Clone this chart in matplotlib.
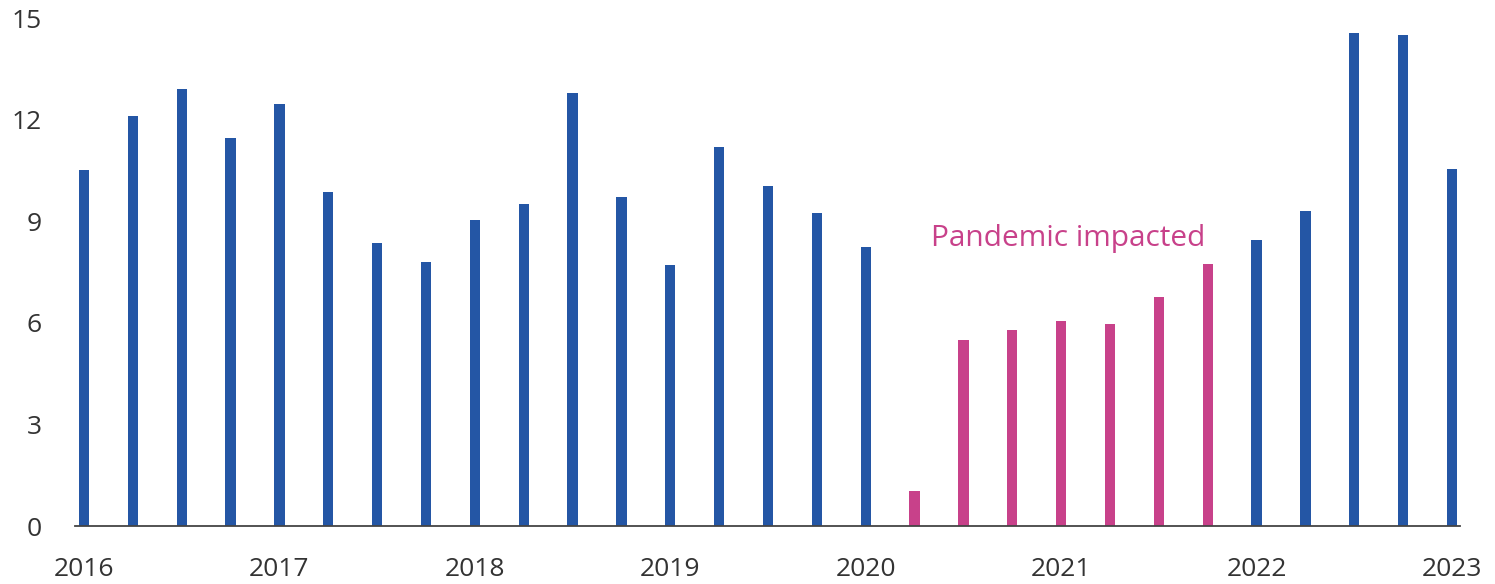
import numpy as np
import matplotlib
matplotlib.use("Agg")
import matplotlib.pyplot as plt

plt.rcParams['font.family'] = ['Open Sans', 'DejaVu Sans']

quarters = ["2016Q1", "2016Q2", "2016Q3", "2016Q4",
            "2017Q1", "2017Q2", "2017Q3", "2017Q4",
            "2018Q1", "2018Q2", "2018Q3", "2018Q4",
            "2019Q1", "2019Q2", "2019Q3", "2019Q4",
            "2020Q1", "2020Q2", "2020Q3", "2020Q4",
            "2021Q1", "2021Q2", "2021Q3", "2021Q4",
            "2022Q1", "2022Q2", "2022Q3", "2022Q4",
            "2023Q1"]
values = [10.5, 12.1, 12.9, 11.45,
          12.45, 9.85, 8.35, 7.8,
          9.05, 9.5, 12.8, 9.7,
          7.7, 11.2, 10.05, 9.25,
          8.25, 1.03, 5.5, 5.8,
          6.05, 5.95, 6.75, 7.75,
          8.45, 9.3, 14.55, 14.5,
          10.55]
pandemic = ["2020Q2", "2020Q3", "2020Q4", "2021Q1", "2021Q2", "2021Q3", "2021Q4"]
year_labels = ["2016", "2017", "2018", "2019", "2020", "2021", "2022", "2023"]

BLUE = "#2456a5"
PINK = "#c8418a"
TEXT = "#333333"

fig = plt.figure(figsize=(14.95, 5.84), dpi=100)
ax = fig.add_axes([75 / 1495, 1 - 526 / 584, (1460 - 75) / 1495, (526 - 18) / 584])

x = np.arange(len(quarters))
cols = [PINK if q in pandemic else BLUE for q in quarters]
ax.bar(x, values, width=0.21, color=cols, zorder=2)

ax.set_xlim(-0.184, len(quarters) - 1 + 0.164)
ax.set_ylim(0, 15)
ax.set_yticks([0, 3, 6, 9, 12, 15])
ax.set_xticks([i for i, q in enumerate(quarters) if q.endswith("Q1")])
ax.set_xticklabels(year_labels)
ax.tick_params(axis="both", length=0, labelsize=19, colors=TEXT)
ax.tick_params(axis="y", pad=24)
ax.tick_params(axis="x", pad=22)

for s in ["top", "right", "left"]:
    ax.spines[s].set_visible(False)
ax.spines["bottom"].set_color("#444444")
ax.spines["bottom"].set_linewidth(1.3)

ax.text(20.14, 8.5, "Pandemic impacted", color=PINK, fontsize=21.5,
        ha="center", va="center")

fig.savefig("out.png", dpi=100)
